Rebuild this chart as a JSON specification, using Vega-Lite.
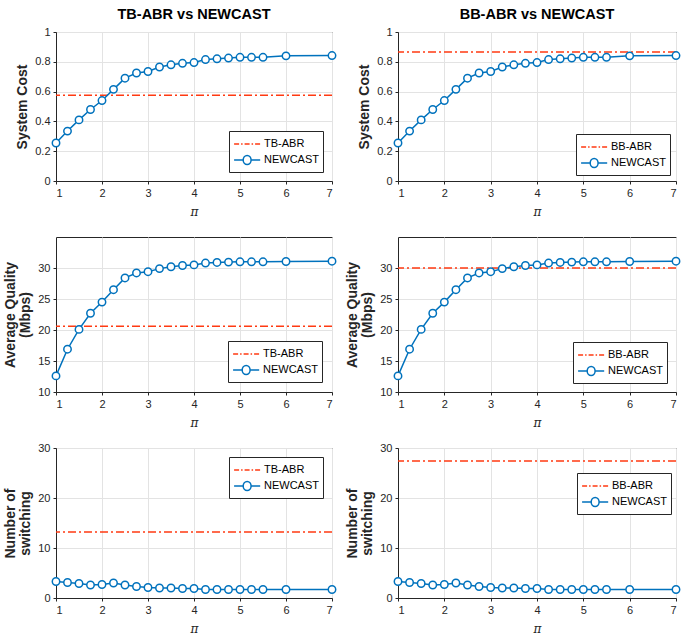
{
  "$schema": "https://vega.github.io/schema/vega-lite/v6.json",
  "padding": {"left": 3, "top": 6, "right": 4, "bottom": 2},
  "background": "white",
  "datasets": {
    "nc": [
      {"pi": 1, "cost": 0.255, "quality": 12.6, "switching": 3.3},
      {"pi": 1.25, "cost": 0.335, "quality": 16.9, "switching": 3.1},
      {"pi": 1.5, "cost": 0.41, "quality": 20.1, "switching": 2.9},
      {"pi": 1.75, "cost": 0.48, "quality": 22.7, "switching": 2.6},
      {"pi": 2, "cost": 0.54, "quality": 24.5, "switching": 2.7},
      {"pi": 2.25, "cost": 0.615, "quality": 26.5, "switching": 3.0},
      {"pi": 2.5, "cost": 0.69, "quality": 28.4, "switching": 2.6},
      {"pi": 2.75, "cost": 0.725, "quality": 29.2, "switching": 2.3},
      {"pi": 3, "cost": 0.735, "quality": 29.4, "switching": 2.1},
      {"pi": 3.25, "cost": 0.765, "quality": 29.9, "switching": 2.0},
      {"pi": 3.5, "cost": 0.78, "quality": 30.2, "switching": 2.0},
      {"pi": 3.75, "cost": 0.79, "quality": 30.4, "switching": 1.9},
      {"pi": 4, "cost": 0.795, "quality": 30.5, "switching": 1.9},
      {"pi": 4.25, "cost": 0.815, "quality": 30.8, "switching": 1.7},
      {"pi": 4.5, "cost": 0.82, "quality": 30.9, "switching": 1.7},
      {"pi": 4.75, "cost": 0.825, "quality": 30.95, "switching": 1.7},
      {"pi": 5, "cost": 0.83, "quality": 31.0, "switching": 1.7},
      {"pi": 5.25, "cost": 0.83, "quality": 31.0, "switching": 1.7},
      {"pi": 5.5, "cost": 0.83, "quality": 31.0, "switching": 1.7},
      {"pi": 6, "cost": 0.84, "quality": 31.05, "switching": 1.7},
      {"pi": 7, "cost": 0.842, "quality": 31.1, "switching": 1.7}
    ],
    "abr": [
      {"method": "TB-ABR", "cost": 0.575, "quality": 20.6, "switching": 13.2},
      {"method": "BB-ABR", "cost": 0.865, "quality": 30.0, "switching": 27.4}
    ]
  },
  "columns": 2,
  "bounds": "flush",
  "spacing": {"row": 56, "column": 66},
  "resolve": {
    "scale": {"color": "independent", "x": "independent", "y": "independent"},
    "legend": {"color": "independent"}
  },
  "concat": [
    {
      "width": 276, "height": 149,
      "title": {"text": "TB-ABR vs NEWCAST"},
      "layer": [
        {
          "data": {"name": "abr"},
          "transform": [{"filter": "datum.method === 'TB-ABR'"}],
          "mark": {"type": "rule", "strokeDash": [8, 3, 2, 3], "strokeWidth": 1.5},
          "encoding": {
            "y": {"field": "cost", "type": "quantitative", "scale": {"domain": [0, 1], "nice": false}, "axis": {"title": "System Cost", "values": [0, 0.2, 0.4, 0.6, 0.8, 1], "format": "~g"}},
            "color": {"field": "method", "type": "nominal", "scale": {"domain": ["TB-ABR", "NEWCAST"], "range": ["#FF3A12", "#0072BD"]},
              "legend": {"orient": "bottom-right", "offset": 9, "encode": {"symbols": {"update": {"shape": {"signal": "datum.value === 'NEWCAST' ? 'M-1,0H0.15M1.15,0H2.3M1.15,0A0.5,0.58,0,1,1,0.15,0A0.5,0.58,0,1,1,1.15,0' : 'M-1,0H2.3'"}, "strokeDash": {"signal": "datum.value === 'NEWCAST' ? [] : [5,2,1.5,2]"}, "fill": {"value": "white"}}}}}}
          }
        },
        {
          "data": {"name": "nc"},
          "mark": {"type": "line", "strokeWidth": 1.5, "point": {"filled": false, "fill": "white", "size": 55, "strokeWidth": 1.5}},
          "encoding": {
            "x": {"field": "pi", "type": "quantitative", "scale": {"domain": [1, 7], "nice": false}, "axis": {"title": "π", "values": [1, 2, 3, 4, 5, 6, 7]}},
            "y": {"field": "cost", "type": "quantitative", "scale": {"domain": [0, 1], "nice": false}, "axis": {"title": "System Cost", "values": [0, 0.2, 0.4, 0.6, 0.8, 1], "format": "~g"}},
            "color": {"datum": "NEWCAST"}
          }
        }
      ]
    },
    {
      "width": 278, "height": 149,
      "title": {"text": "BB-ABR vs NEWCAST"},
      "layer": [
        {
          "data": {"name": "abr"},
          "transform": [{"filter": "datum.method === 'BB-ABR'"}],
          "mark": {"type": "rule", "strokeDash": [8, 3, 2, 3], "strokeWidth": 1.5},
          "encoding": {
            "y": {"field": "cost", "type": "quantitative", "scale": {"domain": [0, 1], "nice": false}, "axis": {"title": "System Cost", "values": [0, 0.2, 0.4, 0.6, 0.8, 1], "format": "~g"}},
            "color": {"field": "method", "type": "nominal", "scale": {"domain": ["BB-ABR", "NEWCAST"], "range": ["#FF3A12", "#0072BD"]},
              "legend": {"orient": "bottom-right", "offset": 6, "encode": {"symbols": {"update": {"shape": {"signal": "datum.value === 'NEWCAST' ? 'M-1,0H0.15M1.15,0H2.3M1.15,0A0.5,0.58,0,1,1,0.15,0A0.5,0.58,0,1,1,1.15,0' : 'M-1,0H2.3'"}, "strokeDash": {"signal": "datum.value === 'NEWCAST' ? [] : [5,2,1.5,2]"}, "fill": {"value": "white"}}}}}}
          }
        },
        {
          "data": {"name": "nc"},
          "mark": {"type": "line", "strokeWidth": 1.5, "point": {"filled": false, "fill": "white", "size": 55, "strokeWidth": 1.5}},
          "encoding": {
            "x": {"field": "pi", "type": "quantitative", "scale": {"domain": [1, 7], "nice": false}, "axis": {"title": "π", "values": [1, 2, 3, 4, 5, 6, 7]}},
            "y": {"field": "cost", "type": "quantitative", "scale": {"domain": [0, 1], "nice": false}, "axis": {"title": "System Cost", "values": [0, 0.2, 0.4, 0.6, 0.8, 1], "format": "~g"}},
            "color": {"datum": "NEWCAST"}
          }
        }
      ]
    },
    {
      "width": 276, "height": 155,
      "layer": [
        {
          "data": {"name": "abr"},
          "transform": [{"filter": "datum.method === 'TB-ABR'"}],
          "mark": {"type": "rule", "strokeDash": [8, 3, 2, 3], "strokeWidth": 1.5},
          "encoding": {
            "y": {"field": "quality", "type": "quantitative", "scale": {"domain": [10, 35], "nice": false}, "axis": {"title": ["Average Quality", "(Mbps)"], "values": [10, 15, 20, 25, 30]}},
            "color": {"field": "method", "type": "nominal", "scale": {"domain": ["TB-ABR", "NEWCAST"], "range": ["#FF3A12", "#0072BD"]},
              "legend": {"orient": "bottom-right", "offset": 10, "encode": {"symbols": {"update": {"shape": {"signal": "datum.value === 'NEWCAST' ? 'M-1,0H0.15M1.15,0H2.3M1.15,0A0.5,0.58,0,1,1,0.15,0A0.5,0.58,0,1,1,1.15,0' : 'M-1,0H2.3'"}, "strokeDash": {"signal": "datum.value === 'NEWCAST' ? [] : [5,2,1.5,2]"}, "fill": {"value": "white"}}}}}}
          }
        },
        {
          "data": {"name": "nc"},
          "mark": {"type": "line", "strokeWidth": 1.5, "point": {"filled": false, "fill": "white", "size": 55, "strokeWidth": 1.5}},
          "encoding": {
            "x": {"field": "pi", "type": "quantitative", "scale": {"domain": [1, 7], "nice": false}, "axis": {"title": "π", "values": [1, 2, 3, 4, 5, 6, 7]}},
            "y": {"field": "quality", "type": "quantitative", "scale": {"domain": [10, 35], "nice": false}, "axis": {"title": ["Average Quality", "(Mbps)"], "values": [10, 15, 20, 25, 30]}},
            "color": {"datum": "NEWCAST"}
          }
        }
      ]
    },
    {
      "width": 278, "height": 155,
      "layer": [
        {
          "data": {"name": "abr"},
          "transform": [{"filter": "datum.method === 'BB-ABR'"}],
          "mark": {"type": "rule", "strokeDash": [8, 3, 2, 3], "strokeWidth": 1.5},
          "encoding": {
            "y": {"field": "quality", "type": "quantitative", "scale": {"domain": [10, 35], "nice": false}, "axis": {"title": ["Average Quality", "(Mbps)"], "values": [10, 15, 20, 25, 30]}},
            "color": {"field": "method", "type": "nominal", "scale": {"domain": ["BB-ABR", "NEWCAST"], "range": ["#FF3A12", "#0072BD"]},
              "legend": {"orient": "bottom-right", "offset": 9, "encode": {"symbols": {"update": {"shape": {"signal": "datum.value === 'NEWCAST' ? 'M-1,0H0.15M1.15,0H2.3M1.15,0A0.5,0.58,0,1,1,0.15,0A0.5,0.58,0,1,1,1.15,0' : 'M-1,0H2.3'"}, "strokeDash": {"signal": "datum.value === 'NEWCAST' ? [] : [5,2,1.5,2]"}, "fill": {"value": "white"}}}}}}
          }
        },
        {
          "data": {"name": "nc"},
          "mark": {"type": "line", "strokeWidth": 1.5, "point": {"filled": false, "fill": "white", "size": 55, "strokeWidth": 1.5}},
          "encoding": {
            "x": {"field": "pi", "type": "quantitative", "scale": {"domain": [1, 7], "nice": false}, "axis": {"title": "π", "values": [1, 2, 3, 4, 5, 6, 7]}},
            "y": {"field": "quality", "type": "quantitative", "scale": {"domain": [10, 35], "nice": false}, "axis": {"title": ["Average Quality", "(Mbps)"], "values": [10, 15, 20, 25, 30]}},
            "color": {"datum": "NEWCAST"}
          }
        }
      ]
    },
    {
      "width": 276, "height": 150,
      "layer": [
        {
          "data": {"name": "abr"},
          "transform": [{"filter": "datum.method === 'TB-ABR'"}],
          "mark": {"type": "rule", "strokeDash": [8, 3, 2, 3], "strokeWidth": 1.5},
          "encoding": {
            "y": {"field": "switching", "type": "quantitative", "scale": {"domain": [0, 30], "nice": false}, "axis": {"title": ["Number of", "switching"], "values": [0, 10, 20, 30]}},
            "color": {"field": "method", "type": "nominal", "scale": {"domain": ["TB-ABR", "NEWCAST"], "range": ["#FF3A12", "#0072BD"]},
              "legend": {"orient": "top-right", "offset": 9, "encode": {"symbols": {"update": {"shape": {"signal": "datum.value === 'NEWCAST' ? 'M-1,0H0.15M1.15,0H2.3M1.15,0A0.5,0.58,0,1,1,0.15,0A0.5,0.58,0,1,1,1.15,0' : 'M-1,0H2.3'"}, "strokeDash": {"signal": "datum.value === 'NEWCAST' ? [] : [5,2,1.5,2]"}, "fill": {"value": "white"}}}}}}
          }
        },
        {
          "data": {"name": "nc"},
          "mark": {"type": "line", "strokeWidth": 1.5, "point": {"filled": false, "fill": "white", "size": 55, "strokeWidth": 1.5}},
          "encoding": {
            "x": {"field": "pi", "type": "quantitative", "scale": {"domain": [1, 7], "nice": false}, "axis": {"title": "π", "values": [1, 2, 3, 4, 5, 6, 7]}},
            "y": {"field": "switching", "type": "quantitative", "scale": {"domain": [0, 30], "nice": false}, "axis": {"title": ["Number of", "switching"], "values": [0, 10, 20, 30]}},
            "color": {"datum": "NEWCAST"}
          }
        }
      ]
    },
    {
      "width": 278, "height": 150,
      "layer": [
        {
          "data": {"name": "abr"},
          "transform": [{"filter": "datum.method === 'BB-ABR'"}],
          "mark": {"type": "rule", "strokeDash": [8, 3, 2, 3], "strokeWidth": 1.5},
          "encoding": {
            "y": {"field": "switching", "type": "quantitative", "scale": {"domain": [0, 30], "nice": false}, "axis": {"title": ["Number of", "switching"], "values": [0, 10, 20, 30]}},
            "color": {"field": "method", "type": "nominal", "scale": {"domain": ["BB-ABR", "NEWCAST"], "range": ["#FF3A12", "#0072BD"]},
              "legend": {"orient": "none", "legendX": 179, "legendY": 25, "encode": {"symbols": {"update": {"shape": {"signal": "datum.value === 'NEWCAST' ? 'M-1,0H0.15M1.15,0H2.3M1.15,0A0.5,0.58,0,1,1,0.15,0A0.5,0.58,0,1,1,1.15,0' : 'M-1,0H2.3'"}, "strokeDash": {"signal": "datum.value === 'NEWCAST' ? [] : [5,2,1.5,2]"}, "fill": {"value": "white"}}}}}}
          }
        },
        {
          "data": {"name": "nc"},
          "mark": {"type": "line", "strokeWidth": 1.5, "point": {"filled": false, "fill": "white", "size": 55, "strokeWidth": 1.5}},
          "encoding": {
            "x": {"field": "pi", "type": "quantitative", "scale": {"domain": [1, 7], "nice": false}, "axis": {"title": "π", "values": [1, 2, 3, 4, 5, 6, 7]}},
            "y": {"field": "switching", "type": "quantitative", "scale": {"domain": [0, 30], "nice": false}, "axis": {"title": ["Number of", "switching"], "values": [0, 10, 20, 30]}},
            "color": {"datum": "NEWCAST"}
          }
        }
      ]
    }
  ],
  "config": {
    "font": "Liberation Sans",
    "view": {"stroke": "#262626", "strokeWidth": 1},
    "title": {"fontSize": 14.5, "fontWeight": "bold", "font": "Liberation Sans", "color": "#000000", "offset": 4},
    "axis": {
      "labelFont": "Liberation Sans", "labelFontSize": 11, "labelColor": "#262626",
      "titleFont": "Liberation Sans", "titleFontSize": 14, "titleFontWeight": "bold", "titleColor": "#262626",
      "gridColor": "#e3e3e3", "domainColor": "#262626", "tickColor": "#262626", "tickSize": 3, "labelPadding": 3
    },
    "axisX": {"titleFont": "DejaVu Serif", "titleFontStyle": "italic", "titleFontWeight": "normal", "titleFontSize": 12, "titlePadding": 8},
    "axisY": {"titlePadding": 5, "labelPadding": 3, "titleLineHeight": 15},
    "legend": {
      "title": null, "strokeColor": "#262626", "fillColor": "white", "padding": 4,
      "labelFont": "Liberation Sans", "labelFontSize": 11, "labelColor": "#000000",
      "symbolSize": 250, "symbolStrokeWidth": 1.5, "symbolType": "stroke", "rowPadding": 2, "labelOffset": 13
    }
  }
}
